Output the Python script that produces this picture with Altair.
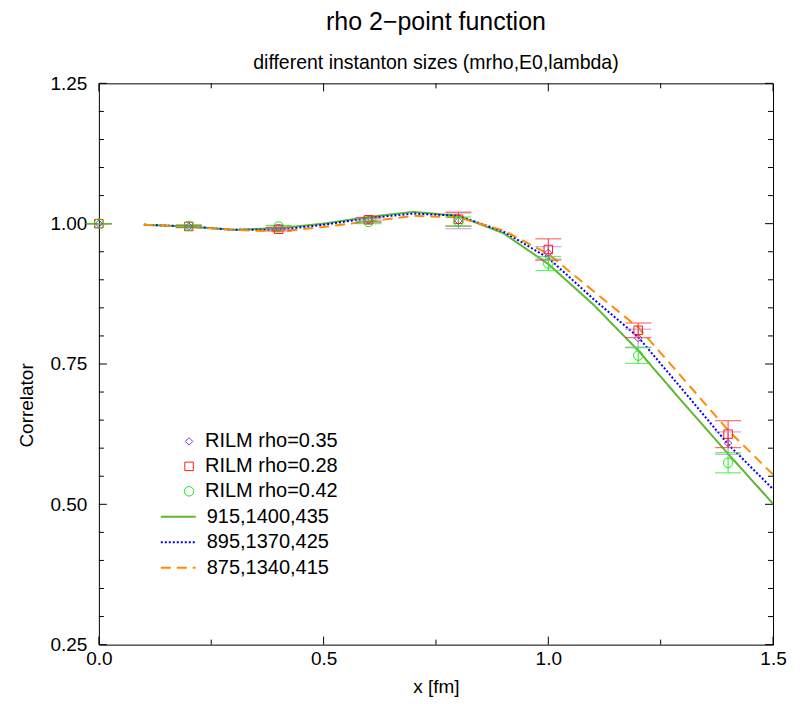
import altair as alt
import pandas as pd

# ---------------- data ----------------
x_pts = [0.0, 0.2, 0.4, 0.6, 0.8, 1.0, 1.2, 1.4]
rilm_035 = [1.000, 0.995, 0.993, 1.006, 1.005, 0.948, 0.796, 0.609]
err_035 = [0.0, 0.002, 0.003, 0.003, 0.014, 0.011, 0.016, 0.020]
rilm_028 = [1.000, 0.995, 0.990, 1.007, 1.008, 0.954, 0.810, 0.625]
err_028 = [0.0, 0.002, 0.003, 0.004, 0.0125, 0.019, 0.013, 0.024]
rilm_042 = [1.000, 0.996, 0.995, 1.003, 1.004, 0.929, 0.765, 0.574]
err_042 = [0.0, 0.002, 0.002, 0.003, 0.008, 0.0125, 0.014, 0.018]
point_series = ["RILM rho=0.35", "RILM rho=0.28", "RILM rho=0.42"]

x_fit = [0.1, 0.2, 0.3, 0.4, 0.5, 0.6, 0.7, 0.8, 0.9, 1.0, 1.1, 1.2, 1.3, 1.4, 1.5]
fit_915 = [0.998, 0.995, 0.989, 0.992, 1.000, 1.012, 1.021, 1.014, 0.983, 0.928, 0.856, 0.774, 0.681, 0.590, 0.501]
fit_895 = [0.998, 0.995, 0.989, 0.989, 0.998, 1.010, 1.018, 1.014, 0.986, 0.939, 0.866, 0.798, 0.703, 0.607, 0.527]
fit_875 = [0.998, 0.995, 0.989, 0.986, 0.994, 1.004, 1.014, 1.011, 0.988, 0.946, 0.880, 0.815, 0.724, 0.632, 0.553]
fit_series = ["915,1400,435", "895,1370,425", "875,1340,415"]

x_major = [0.0, 0.5, 1.0, 1.5]
x_minor = [0.25, 0.75, 1.25]
y_major = [0.25, 0.50, 0.75, 1.00, 1.25]
y_minor = [0.30, 0.35, 0.40, 0.45, 0.55, 0.60, 0.65, 0.70, 0.80, 0.85, 0.90, 0.95,
           1.05, 1.10, 1.15, 1.20]

# ---------------- styles ----------------
W, H = 675, 562
FONT = "Liberation Sans"
point_colors = ["#7a3fc4", "#ff1a1a", "#1fe61f"]
err_colors = ["#a98ade", "#ff3030", "#22ee22"]
point_shapes = ["diamond", "square", "circle"]
point_sizes = [55, 90, 130]
line_colors = ["#5cb82e", "#0000ff", "#ff8c00"]
line_dashes = [[1, 0], [2, 2], [10, 6]]

# ---------------- tables ----------------
pts_rows = []
for name, vals, errs, ec in zip(point_series, [rilm_035, rilm_028, rilm_042],
                                [err_035, err_028, err_042], err_colors):
    for xv, v, e in zip(x_pts, vals, errs):
        pts_rows.append({"x": xv, "y": v, "lo": v - e, "hi": v + e,
                         "series": name, "ecolor": ec})
df_pts = pd.DataFrame(pts_rows)

fit_rows = []
for name, vals in zip(fit_series, [fit_915, fit_895, fit_875]):
    for xv, v in zip(x_fit, vals):
        fit_rows.append({"x": xv, "y": v, "model": name})
df_fit = pd.DataFrame(fit_rows)

xscale = alt.Scale(domain=[0, 1.5], nice=False, zero=False)
yscale = alt.Scale(domain=[0.25, 1.25], nice=False, zero=False)
xaxis = alt.Axis(values=x_major, format=".1f", title="x [fm]", labelFlush=False)
yaxis = alt.Axis(values=y_major, format=".2f", title="Correlator", labelFlush=False,
                 titleX=-72, titleY=322, titleBaseline="middle", titleAlign="center",
                 titleAngle=270)


def X(field):
    return alt.X(f"{field}:Q", scale=xscale, axis=xaxis, title="x [fm]")


def Y(field):
    return alt.Y(f"{field}:Q", scale=yscale, axis=yaxis, title="Correlator")


# fit lines
leg_lines = alt.Legend(orient="none", legendX=68.5, legendY=423, title=None,
                       labelFont=FONT, labelFontSize=20, labelColor="black",
                       symbolType="M-1.75,0H1.75", symbolSize=400,
                       symbolStrokeWidth=2, rowPadding=4.5, labelOffset=17.5,
                       padding=0)
lines = alt.Chart(df_fit).mark_line(strokeWidth=2, clip=True).encode(
    x=X("x"), y=Y("y"),
    color=alt.Color("model:N", scale=alt.Scale(domain=fit_series, range=line_colors),
                    legend=leg_lines),
    strokeDash=alt.StrokeDash("model:N",
                              scale=alt.Scale(domain=fit_series, range=line_dashes),
                              legend=leg_lines),
)

# error bars
ebar = alt.Chart(df_pts).mark_rule(strokeWidth=1).encode(
    x=X("x"), y=Y("lo"), y2="hi:Q",
    color=alt.Color("ecolor:N", scale=None),
)
cap_lo = alt.Chart(df_pts).mark_tick(orient="horizontal", size=26, thickness=1.2).encode(
    x=X("x"), y=Y("lo"), color=alt.Color("ecolor:N", scale=None),
)
cap_hi = alt.Chart(df_pts).mark_tick(orient="horizontal", size=26, thickness=1.2).encode(
    x=X("x"), y=Y("hi"), color=alt.Color("ecolor:N", scale=None),
)

leg_pts = alt.Legend(orient="none", legendX=80.3, legendY=348.5, title=None,
                     labelFont=FONT, labelFontSize=20, labelColor="black",
                     rowPadding=5, labelOffset=6, padding=0, symbolStrokeWidth=1)
points = alt.Chart(df_pts).mark_point(filled=False, strokeWidth=1, opacity=1).encode(
    x=X("x"), y=Y("y"),
    color=alt.Color("series:N", scale=alt.Scale(domain=point_series, range=point_colors),
                    legend=leg_pts),
    shape=alt.Shape("series:N", scale=alt.Scale(domain=point_series, range=point_shapes),
                    legend=leg_pts),
    size=alt.Size("series:N", scale=alt.Scale(domain=point_series, range=point_sizes),
                  legend=leg_pts),
)

# inward tick marks (major and minor) on all four sides
df_xmaj = pd.DataFrame({"t": x_major})
df_xmin = pd.DataFrame({"t": x_minor})
df_ymaj = pd.DataFrame({"t": y_major})
df_ymin = pd.DataFrame({"t": y_minor})


def xticks(df, length):
    bottom = alt.Chart(df).mark_rule(color="black", strokeWidth=1).encode(
        x=X("t"), y=alt.value(H), y2=alt.value(H - length))
    top = alt.Chart(df).mark_rule(color="black", strokeWidth=1).encode(
        x=X("t"), y=alt.value(0), y2=alt.value(length))
    return [bottom, top]


def yticks(df, length):
    left = alt.Chart(df).mark_rule(color="black", strokeWidth=1).encode(
        y=Y("t"), x=alt.value(0), x2=alt.value(length))
    right = alt.Chart(df).mark_rule(color="black", strokeWidth=1).encode(
        y=Y("t"), x=alt.value(W), x2=alt.value(W - length))
    return [left, right]


tick_layers = xticks(df_xmaj, 8) + xticks(df_xmin, 5) + yticks(df_ymaj, 8) + yticks(df_ymin, 5)

chart = alt.layer(
    *tick_layers, lines, ebar, cap_lo, cap_hi, points
).resolve_scale(
    color="independent", shape="independent", size="independent",
    strokeDash="independent"
).properties(
    width=W, height=H,
    title=alt.TitleParams(
        "rho 2\u2212point function",
        subtitle="different instanton sizes (mrho,E0,lambda)",
        font=FONT, fontSize=25, fontWeight="normal", color="black",
        subtitleFont=FONT, subtitleFontSize=19.5, subtitleColor="black",
        subtitlePadding=19, anchor="middle", offset=2,
    ),
    autosize=alt.AutoSizeParams(type="none"),
    padding={"left": 91, "top": 75, "right": 20, "bottom": 55},
).configure_view(
    stroke="black", strokeWidth=1
).configure_axis(
    grid=False, ticks=False, domain=False,
    labelFont=FONT, labelFontSize=19, labelColor="black",
    titleFont=FONT, titleFontSize=19, titleFontWeight="normal", titleColor="black",
).configure_axisX(
    labelPadding=5, titlePadding=9,
).configure_axisY(
    labelPadding=12,
)

chart.save("out.html", embed_options={"renderer": "svg", "actions": False})
